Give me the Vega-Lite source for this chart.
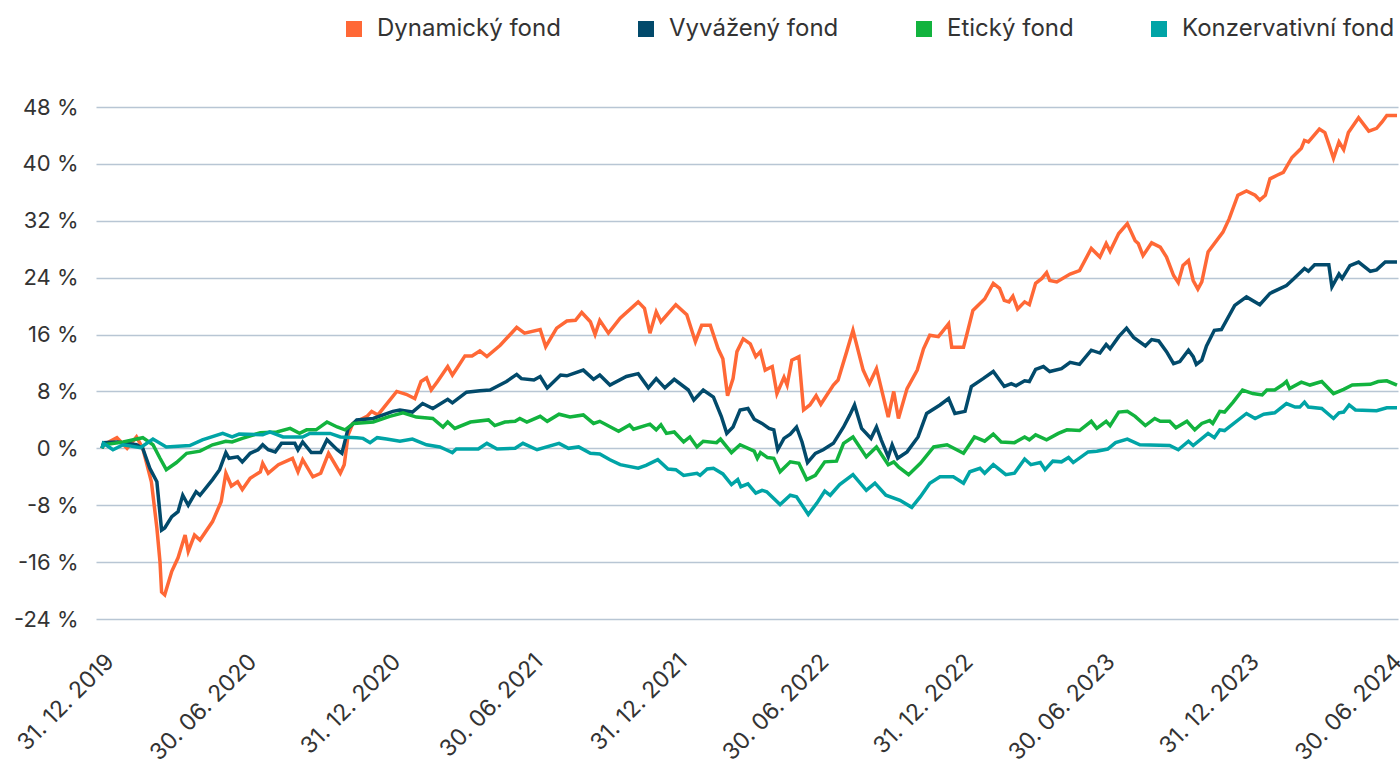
{
"$schema":"https://vega.github.io/schema/vega-lite/v6.json",
"width":1302,"height":512,
"autosize":{"type":"none"},
"padding":{"left":96,"top":107,"right":2,"bottom":148},
"background":"white",
"config":{"view":{"stroke":null},"font":"Inter"},
"datasets":{
"dyn":[{"d":"2019-12-31","v":0},{"d":"2020-01-02","v":0.5},{"d":"2020-01-19","v":1.5},{"d":"2020-02-01","v":0},{"d":"2020-02-13","v":1.6},{"d":"2020-02-21","v":0},{"d":"2020-03-03","v":-4.7},{"d":"2020-03-10","v":-11.2},{"d":"2020-03-14","v":-16},{"d":"2020-03-16","v":-20.2},{"d":"2020-03-20","v":-20.6},{"d":"2020-03-29","v":-17.3},{"d":"2020-04-06","v":-15.4},{"d":"2020-04-15","v":-12.2},{"d":"2020-04-19","v":-14.5},{"d":"2020-04-27","v":-12.2},{"d":"2020-05-04","v":-12.9},{"d":"2020-05-20","v":-10.3},{"d":"2020-05-31","v":-7.5},{"d":"2020-06-06","v":-3.5},{"d":"2020-06-13","v":-5.3},{"d":"2020-06-21","v":-4.7},{"d":"2020-06-27","v":-5.8},{"d":"2020-07-07","v":-4.2},{"d":"2020-07-20","v":-3.3},{"d":"2020-07-23","v":-2.1},{"d":"2020-07-30","v":-3.5},{"d":"2020-08-12","v":-2.3},{"d":"2020-08-30","v":-1.4},{"d":"2020-09-06","v":-3.3},{"d":"2020-09-12","v":-1.6},{"d":"2020-09-25","v":-4},{"d":"2020-10-05","v":-3.5},{"d":"2020-10-15","v":-0.7},{"d":"2020-10-30","v":-3.5},{"d":"2020-11-04","v":-2.3},{"d":"2020-11-09","v":1.9},{"d":"2020-11-15","v":3.5},{"d":"2020-12-03","v":4.5},{"d":"2020-12-09","v":5.2},{"d":"2020-12-17","v":4.7},{"d":"2021-01-10","v":8},{"d":"2021-01-22","v":7.6},{"d":"2021-02-02","v":7},{"d":"2021-02-10","v":9.4},{"d":"2021-02-17","v":9.9},{"d":"2021-02-23","v":8.2},{"d":"2021-03-03","v":9.4},{"d":"2021-03-16","v":11.5},{"d":"2021-03-22","v":10.3},{"d":"2021-03-28","v":11.3},{"d":"2021-04-07","v":13},{"d":"2021-04-16","v":13},{"d":"2021-04-26","v":13.7},{"d":"2021-05-05","v":12.9},{"d":"2021-05-22","v":14.5},{"d":"2021-06-12","v":17},{"d":"2021-06-22","v":16.2},{"d":"2021-07-12","v":16.7},{"d":"2021-07-19","v":14.3},{"d":"2021-08-02","v":16.9},{"d":"2021-08-15","v":17.9},{"d":"2021-08-26","v":18},{"d":"2021-09-03","v":19.1},{"d":"2021-09-14","v":17.8},{"d":"2021-09-20","v":16},{"d":"2021-09-26","v":18},{"d":"2021-10-07","v":16.2},{"d":"2021-10-22","v":18.3},{"d":"2021-11-14","v":20.6},{"d":"2021-11-22","v":19.7},{"d":"2021-11-29","v":16.2},{"d":"2021-12-07","v":19.2},{"d":"2021-12-13","v":17.8},{"d":"2022-01-01","v":20.2},{"d":"2022-01-15","v":18.8},{"d":"2022-01-26","v":15},{"d":"2022-02-03","v":17.3},{"d":"2022-02-14","v":17.3},{"d":"2022-02-24","v":14},{"d":"2022-03-02","v":12.6},{"d":"2022-03-08","v":7.4},{"d":"2022-03-15","v":9.8},{"d":"2022-03-20","v":13.6},{"d":"2022-03-28","v":15.4},{"d":"2022-04-06","v":14.7},{"d":"2022-04-13","v":12.9},{"d":"2022-04-19","v":13.6},{"d":"2022-04-25","v":11},{"d":"2022-05-04","v":11.5},{"d":"2022-05-10","v":7.7},{"d":"2022-05-19","v":10},{"d":"2022-05-23","v":8.9},{"d":"2022-05-29","v":12.4},{"d":"2022-06-07","v":12.9},{"d":"2022-06-13","v":5.4},{"d":"2022-06-21","v":6.1},{"d":"2022-06-29","v":7.4},{"d":"2022-07-05","v":6.2},{"d":"2022-07-21","v":8.9},{"d":"2022-07-27","v":9.6},{"d":"2022-08-07","v":13.6},{"d":"2022-08-15","v":16.6},{"d":"2022-08-28","v":11},{"d":"2022-09-05","v":9.1},{"d":"2022-09-14","v":11.2},{"d":"2022-09-29","v":4.4},{"d":"2022-10-06","v":8},{"d":"2022-10-12","v":4.2},{"d":"2022-10-23","v":8.4},{"d":"2022-11-05","v":11},{"d":"2022-11-13","v":14},{"d":"2022-11-21","v":15.9},{"d":"2022-12-02","v":15.7},{"d":"2022-12-15","v":17.5},{"d":"2022-12-19","v":14.2},{"d":"2023-01-03","v":14.2},{"d":"2023-01-07","v":15.9},{"d":"2023-01-15","v":19.4},{"d":"2023-01-30","v":21},{"d":"2023-02-10","v":23.2},{"d":"2023-02-18","v":22.5},{"d":"2023-02-24","v":20.8},{"d":"2023-03-02","v":20.6},{"d":"2023-03-07","v":21.4},{"d":"2023-03-13","v":19.6},{"d":"2023-03-22","v":20.6},{"d":"2023-03-28","v":20.2},{"d":"2023-04-05","v":23.2},{"d":"2023-04-13","v":23.9},{"d":"2023-04-19","v":24.7},{"d":"2023-04-23","v":23.6},{"d":"2023-05-02","v":23.4},{"d":"2023-05-19","v":24.5},{"d":"2023-05-31","v":25},{"d":"2023-06-15","v":28.1},{"d":"2023-06-26","v":26.9},{"d":"2023-07-04","v":28.8},{"d":"2023-07-09","v":27.7},{"d":"2023-07-20","v":30.2},{"d":"2023-07-31","v":31.6},{"d":"2023-08-10","v":29.2},{"d":"2023-08-14","v":28.8},{"d":"2023-08-20","v":27.1},{"d":"2023-08-31","v":28.9},{"d":"2023-09-11","v":28.3},{"d":"2023-09-19","v":26.9},{"d":"2023-09-28","v":24.3},{"d":"2023-10-04","v":23.3},{"d":"2023-10-10","v":25.7},{"d":"2023-10-17","v":26.4},{"d":"2023-10-23","v":23.6},{"d":"2023-10-29","v":22.4},{"d":"2023-11-03","v":23.4},{"d":"2023-11-11","v":27.6},{"d":"2023-11-30","v":30.4},{"d":"2023-12-08","v":32.3},{"d":"2023-12-19","v":35.6},{"d":"2023-12-30","v":36.2},{"d":"2024-01-10","v":35.6},{"d":"2024-01-16","v":34.9},{"d":"2024-01-23","v":35.6},{"d":"2024-01-29","v":37.9},{"d":"2024-02-07","v":38.4},{"d":"2024-02-15","v":38.8},{"d":"2024-02-26","v":40.9},{"d":"2024-03-09","v":42.2},{"d":"2024-03-13","v":43.3},{"d":"2024-03-18","v":43.1},{"d":"2024-04-01","v":44.9},{"d":"2024-04-08","v":44.4},{"d":"2024-04-13","v":42.8},{"d":"2024-04-19","v":40.8},{"d":"2024-04-26","v":43.1},{"d":"2024-05-02","v":42},{"d":"2024-05-08","v":44.4},{"d":"2024-05-21","v":46.5},{"d":"2024-06-03","v":44.6},{"d":"2024-06-13","v":45},{"d":"2024-06-20","v":45.9},{"d":"2024-06-26","v":46.8},{"d":"2024-07-09","v":46.8}],
"vyv":[{"d":"2019-12-31","v":0},{"d":"2020-01-02","v":0.8},{"d":"2020-01-19","v":0.9},{"d":"2020-02-13","v":0.5},{"d":"2020-02-21","v":0},{"d":"2020-03-01","v":-2.8},{"d":"2020-03-10","v":-4.7},{"d":"2020-03-16","v":-11.5},{"d":"2020-03-20","v":-11.2},{"d":"2020-03-29","v":-9.6},{"d":"2020-04-06","v":-8.9},{"d":"2020-04-12","v":-6.6},{"d":"2020-04-19","v":-8},{"d":"2020-04-29","v":-6.1},{"d":"2020-05-04","v":-6.6},{"d":"2020-05-20","v":-4.4},{"d":"2020-05-29","v":-3},{"d":"2020-06-06","v":-0.6},{"d":"2020-06-10","v":-1.4},{"d":"2020-06-21","v":-1.2},{"d":"2020-06-27","v":-1.9},{"d":"2020-07-07","v":-0.7},{"d":"2020-07-17","v":-0.2},{"d":"2020-07-23","v":0.5},{"d":"2020-07-30","v":-0.2},{"d":"2020-08-08","v":-0.5},{"d":"2020-08-16","v":0.7},{"d":"2020-09-02","v":0.7},{"d":"2020-09-06","v":-0.2},{"d":"2020-09-12","v":0.9},{"d":"2020-09-23","v":-0.6},{"d":"2020-10-05","v":-0.6},{"d":"2020-10-13","v":1.2},{"d":"2020-10-26","v":-0.2},{"d":"2020-11-01","v":-0.7},{"d":"2020-11-09","v":2.8},{"d":"2020-11-20","v":4},{"d":"2020-12-11","v":4.2},{"d":"2021-01-05","v":5.2},{"d":"2021-01-14","v":5.4},{"d":"2021-01-30","v":5.1},{"d":"2021-02-12","v":6.3},{"d":"2021-02-25","v":5.6},{"d":"2021-03-16","v":6.9},{"d":"2021-03-22","v":6.4},{"d":"2021-04-09","v":7.9},{"d":"2021-04-26","v":8.1},{"d":"2021-05-09","v":8.2},{"d":"2021-05-30","v":9.4},{"d":"2021-06-12","v":10.4},{"d":"2021-06-18","v":9.8},{"d":"2021-07-04","v":9.6},{"d":"2021-07-12","v":10.1},{"d":"2021-07-21","v":8.5},{"d":"2021-08-07","v":10.3},{"d":"2021-08-15","v":10.2},{"d":"2021-09-05","v":11},{"d":"2021-09-18","v":9.7},{"d":"2021-09-26","v":10.3},{"d":"2021-10-09","v":8.9},{"d":"2021-10-30","v":10.1},{"d":"2021-11-14","v":10.5},{"d":"2021-11-27","v":8.5},{"d":"2021-12-07","v":9.8},{"d":"2021-12-18","v":8.5},{"d":"2021-12-30","v":9.7},{"d":"2022-01-17","v":8.2},{"d":"2022-01-24","v":6.8},{"d":"2022-02-05","v":8.2},{"d":"2022-02-18","v":7.2},{"d":"2022-02-28","v":4.5},{"d":"2022-03-07","v":2.1},{"d":"2022-03-15","v":3},{"d":"2022-03-24","v":5.4},{"d":"2022-04-03","v":5.6},{"d":"2022-04-11","v":4.1},{"d":"2022-04-21","v":3.5},{"d":"2022-04-30","v":2.8},{"d":"2022-05-06","v":2.6},{"d":"2022-05-11","v":-0.2},{"d":"2022-05-19","v":1.4},{"d":"2022-05-27","v":2},{"d":"2022-06-04","v":3},{"d":"2022-06-11","v":0.9},{"d":"2022-06-18","v":-2},{"d":"2022-06-28","v":-0.7},{"d":"2022-07-08","v":-0.2},{"d":"2022-07-21","v":0.7},{"d":"2022-08-03","v":3},{"d":"2022-08-11","v":4.7},{"d":"2022-08-17","v":6.1},{"d":"2022-08-26","v":2.8},{"d":"2022-09-07","v":1.4},{"d":"2022-09-14","v":3},{"d":"2022-09-20","v":1.2},{"d":"2022-09-29","v":-1.2},{"d":"2022-10-04","v":0.5},{"d":"2022-10-11","v":-1.4},{"d":"2022-10-23","v":-0.5},{"d":"2022-11-06","v":1.6},{"d":"2022-11-17","v":4.9},{"d":"2022-12-04","v":6.1},{"d":"2022-12-15","v":7},{"d":"2022-12-23","v":4.9},{"d":"2023-01-05","v":5.2},{"d":"2023-01-13","v":8.7},{"d":"2023-01-28","v":9.8},{"d":"2023-02-10","v":10.8},{"d":"2023-02-24","v":8.7},{"d":"2023-03-05","v":9.1},{"d":"2023-03-11","v":8.8},{"d":"2023-03-22","v":9.5},{"d":"2023-03-28","v":9.4},{"d":"2023-04-05","v":11.1},{"d":"2023-04-15","v":11.5},{"d":"2023-04-23","v":10.8},{"d":"2023-05-08","v":11.2},{"d":"2023-05-19","v":12.1},{"d":"2023-05-31","v":11.8},{"d":"2023-06-15","v":13.8},{"d":"2023-06-26","v":13.4},{"d":"2023-07-04","v":14.6},{"d":"2023-07-09","v":14},{"d":"2023-07-20","v":15.7},{"d":"2023-07-30","v":16.9},{"d":"2023-08-08","v":15.6},{"d":"2023-08-23","v":14.4},{"d":"2023-08-31","v":15.3},{"d":"2023-09-09","v":15.1},{"d":"2023-09-19","v":13.6},{"d":"2023-09-28","v":11.9},{"d":"2023-10-06","v":12.2},{"d":"2023-10-17","v":13.8},{"d":"2023-10-23","v":12.9},{"d":"2023-10-27","v":11.8},{"d":"2023-11-03","v":12.4},{"d":"2023-11-09","v":14.4},{"d":"2023-11-19","v":16.6},{"d":"2023-11-28","v":16.7},{"d":"2023-12-15","v":20.1},{"d":"2023-12-30","v":21.3},{"d":"2024-01-16","v":20.2},{"d":"2024-01-29","v":21.8},{"d":"2024-02-19","v":22.9},{"d":"2024-02-28","v":23.8},{"d":"2024-03-13","v":25.3},{"d":"2024-03-18","v":24.9},{"d":"2024-03-26","v":25.8},{"d":"2024-04-13","v":25.8},{"d":"2024-04-17","v":22.7},{"d":"2024-04-26","v":24.5},{"d":"2024-04-30","v":23.9},{"d":"2024-05-10","v":25.7},{"d":"2024-05-21","v":26.2},{"d":"2024-06-05","v":24.9},{"d":"2024-06-13","v":25.1},{"d":"2024-06-24","v":26.2},{"d":"2024-07-09","v":26.2}],
"eti":[{"d":"2019-12-31","v":0},{"d":"2020-01-02","v":0.5},{"d":"2020-01-27","v":0.9},{"d":"2020-02-21","v":1.5},{"d":"2020-03-05","v":0.5},{"d":"2020-03-14","v":-1.4},{"d":"2020-03-22","v":-3},{"d":"2020-04-04","v":-2},{"d":"2020-04-17","v":-0.7},{"d":"2020-05-04","v":-0.4},{"d":"2020-05-20","v":0.5},{"d":"2020-06-06","v":1},{"d":"2020-06-14","v":0.9},{"d":"2020-06-27","v":1.4},{"d":"2020-07-20","v":2.2},{"d":"2020-08-10","v":2.3},{"d":"2020-08-27","v":2.8},{"d":"2020-09-08","v":2.1},{"d":"2020-09-17","v":2.6},{"d":"2020-09-29","v":2.6},{"d":"2020-10-13","v":3.7},{"d":"2020-10-26","v":3},{"d":"2020-11-05","v":2.6},{"d":"2020-11-16","v":3.5},{"d":"2020-12-11","v":3.7},{"d":"2021-01-01","v":4.5},{"d":"2021-01-18","v":5},{"d":"2021-02-04","v":4.4},{"d":"2021-02-25","v":4.2},{"d":"2021-03-10","v":3},{"d":"2021-03-16","v":3.7},{"d":"2021-03-25","v":2.8},{"d":"2021-04-14","v":3.7},{"d":"2021-05-07","v":4},{"d":"2021-05-15","v":3.2},{"d":"2021-05-28","v":3.7},{"d":"2021-06-10","v":3.8},{"d":"2021-06-16","v":4.2},{"d":"2021-06-25","v":3.7},{"d":"2021-07-12","v":4.5},{"d":"2021-07-21","v":3.8},{"d":"2021-08-05","v":4.8},{"d":"2021-08-19","v":4.4},{"d":"2021-09-05","v":4.7},{"d":"2021-09-18","v":3.5},{"d":"2021-09-26","v":3.8},{"d":"2021-10-20","v":2.4},{"d":"2021-11-03","v":3.3},{"d":"2021-11-08","v":2.7},{"d":"2021-11-29","v":3.4},{"d":"2021-12-07","v":2.6},{"d":"2021-12-13","v":3.3},{"d":"2021-12-20","v":2.1},{"d":"2021-12-30","v":2.3},{"d":"2022-01-11","v":0.9},{"d":"2022-01-19","v":1.6},{"d":"2022-01-28","v":0.2},{"d":"2022-02-05","v":1},{"d":"2022-02-22","v":0.8},{"d":"2022-02-27","v":1.3},{"d":"2022-03-13","v":-0.6},{"d":"2022-03-24","v":0.5},{"d":"2022-04-11","v":-0.4},{"d":"2022-04-15","v":-1.4},{"d":"2022-04-19","v":-0.6},{"d":"2022-04-28","v":-1.3},{"d":"2022-05-06","v":-1.4},{"d":"2022-05-14","v":-3.3},{"d":"2022-05-27","v":-1.9},{"d":"2022-06-07","v":-2.1},{"d":"2022-06-17","v":-4.4},{"d":"2022-06-28","v":-3.8},{"d":"2022-07-10","v":-1.9},{"d":"2022-07-25","v":-1.8},{"d":"2022-08-03","v":0.7},{"d":"2022-08-15","v":1.6},{"d":"2022-09-01","v":-1.2},{"d":"2022-09-14","v":0.2},{"d":"2022-09-29","v":-2.3},{"d":"2022-10-06","v":-1.9},{"d":"2022-10-12","v":-2.6},{"d":"2022-10-25","v":-3.7},{"d":"2022-11-09","v":-2.1},{"d":"2022-11-26","v":0.2},{"d":"2022-12-13","v":0.5},{"d":"2023-01-03","v":-0.7},{"d":"2023-01-17","v":1.6},{"d":"2023-01-30","v":1},{"d":"2023-02-10","v":2},{"d":"2023-02-20","v":0.9},{"d":"2023-03-09","v":0.8},{"d":"2023-03-22","v":1.6},{"d":"2023-03-28","v":1.2},{"d":"2023-04-05","v":1.9},{"d":"2023-04-19","v":1.2},{"d":"2023-05-04","v":2.1},{"d":"2023-05-15","v":2.6},{"d":"2023-05-31","v":2.5},{"d":"2023-06-15","v":3.8},{"d":"2023-06-22","v":2.8},{"d":"2023-07-04","v":3.8},{"d":"2023-07-09","v":3.2},{"d":"2023-07-20","v":5.1},{"d":"2023-07-31","v":5.2},{"d":"2023-08-10","v":4.5},{"d":"2023-08-23","v":3.2},{"d":"2023-09-04","v":4.2},{"d":"2023-09-11","v":3.8},{"d":"2023-09-23","v":3.8},{"d":"2023-10-01","v":2.9},{"d":"2023-10-15","v":3.8},{"d":"2023-10-25","v":2.6},{"d":"2023-11-03","v":3.5},{"d":"2023-11-13","v":3.9},{"d":"2023-11-17","v":3.5},{"d":"2023-11-26","v":5.2},{"d":"2023-12-02","v":5.1},{"d":"2023-12-13","v":6.5},{"d":"2023-12-25","v":8.2},{"d":"2024-01-07","v":7.7},{"d":"2024-01-19","v":7.5},{"d":"2024-01-25","v":8.2},{"d":"2024-02-04","v":8.2},{"d":"2024-02-15","v":9},{"d":"2024-02-19","v":9.4},{"d":"2024-02-23","v":8.4},{"d":"2024-03-09","v":9.3},{"d":"2024-03-20","v":8.9},{"d":"2024-04-04","v":9.4},{"d":"2024-04-19","v":7.7},{"d":"2024-05-02","v":8.3},{"d":"2024-05-13","v":8.9},{"d":"2024-06-05","v":9},{"d":"2024-06-15","v":9.4},{"d":"2024-06-26","v":9.5},{"d":"2024-07-09","v":8.9}],
"kon":[{"d":"2019-12-31","v":0},{"d":"2020-01-02","v":0.7},{"d":"2020-01-14","v":-0.2},{"d":"2020-01-27","v":0.5},{"d":"2020-02-18","v":0.1},{"d":"2020-03-05","v":1.3},{"d":"2020-03-22","v":0.2},{"d":"2020-04-21","v":0.4},{"d":"2020-05-07","v":1.2},{"d":"2020-06-02","v":2.1},{"d":"2020-06-14","v":1.6},{"d":"2020-06-23","v":2},{"d":"2020-07-23","v":1.9},{"d":"2020-08-01","v":2.3},{"d":"2020-08-18","v":1.6},{"d":"2020-09-12","v":1.6},{"d":"2020-09-21","v":2.1},{"d":"2020-10-17","v":2.1},{"d":"2020-10-30","v":1.6},{"d":"2020-11-20","v":1.5},{"d":"2020-11-28","v":1.4},{"d":"2020-12-07","v":0.8},{"d":"2020-12-16","v":1.5},{"d":"2020-12-28","v":1.3},{"d":"2021-01-14","v":1},{"d":"2021-01-30","v":1.3},{"d":"2021-02-17","v":0.5},{"d":"2021-03-06","v":0.2},{"d":"2021-03-14","v":-0.2},{"d":"2021-03-22","v":-0.6},{"d":"2021-03-27","v":-0.1},{"d":"2021-04-24","v":-0.1},{"d":"2021-05-05","v":0.7},{"d":"2021-05-18","v":-0.1},{"d":"2021-06-10","v":0},{"d":"2021-06-20","v":0.7},{"d":"2021-07-08","v":-0.2},{"d":"2021-08-05","v":0.7},{"d":"2021-08-17","v":0},{"d":"2021-08-30","v":0.2},{"d":"2021-09-14","v":-0.7},{"d":"2021-09-26","v":-0.8},{"d":"2021-10-09","v":-1.6},{"d":"2021-10-22","v":-2.3},{"d":"2021-11-14","v":-2.8},{"d":"2021-11-24","v":-2.4},{"d":"2021-12-09","v":-1.6},{"d":"2021-12-22","v":-2.9},{"d":"2022-01-01","v":-3},{"d":"2022-01-11","v":-3.8},{"d":"2022-01-28","v":-3.5},{"d":"2022-02-01","v":-3.8},{"d":"2022-02-10","v":-2.9},{"d":"2022-02-18","v":-2.8},{"d":"2022-03-02","v":-3.6},{"d":"2022-03-13","v":-5.1},{"d":"2022-03-21","v":-4.4},{"d":"2022-03-25","v":-5.4},{"d":"2022-04-03","v":-5},{"d":"2022-04-13","v":-6.3},{"d":"2022-04-21","v":-5.9},{"d":"2022-04-27","v":-6.1},{"d":"2022-05-14","v":-7.9},{"d":"2022-05-27","v":-6.6},{"d":"2022-06-04","v":-6.8},{"d":"2022-06-19","v":-9.3},{"d":"2022-06-30","v":-7.7},{"d":"2022-07-10","v":-6},{"d":"2022-07-17","v":-6.6},{"d":"2022-07-29","v":-5.1},{"d":"2022-08-15","v":-3.7},{"d":"2022-09-01","v":-5.9},{"d":"2022-09-12","v":-4.9},{"d":"2022-09-26","v":-6.6},{"d":"2022-10-14","v":-7.3},{"d":"2022-10-29","v":-8.3},{"d":"2022-11-09","v":-6.8},{"d":"2022-11-21","v":-4.9},{"d":"2022-12-04","v":-4},{"d":"2022-12-21","v":-4},{"d":"2023-01-03","v":-4.9},{"d":"2023-01-11","v":-3.3},{"d":"2023-01-24","v":-2.8},{"d":"2023-01-30","v":-3.5},{"d":"2023-02-10","v":-2.3},{"d":"2023-02-26","v":-3.7},{"d":"2023-03-09","v":-3.5},{"d":"2023-03-22","v":-1.5},{"d":"2023-03-30","v":-2.3},{"d":"2023-04-11","v":-2},{"d":"2023-04-17","v":-3},{"d":"2023-04-27","v":-1.8},{"d":"2023-05-08","v":-1.9},{"d":"2023-05-17","v":-1.3},{"d":"2023-05-23","v":-2},{"d":"2023-06-11","v":-0.5},{"d":"2023-06-22","v":-0.4},{"d":"2023-07-06","v":-0.1},{"d":"2023-07-16","v":0.8},{"d":"2023-07-31","v":1.3},{"d":"2023-08-16","v":0.5},{"d":"2023-09-23","v":0.4},{"d":"2023-10-04","v":-0.2},{"d":"2023-10-17","v":1},{"d":"2023-10-23","v":0.4},{"d":"2023-11-11","v":2.1},{"d":"2023-11-19","v":1.5},{"d":"2023-11-26","v":2.6},{"d":"2023-12-02","v":2.5},{"d":"2023-12-30","v":4.9},{"d":"2024-01-10","v":4.2},{"d":"2024-01-21","v":4.8},{"d":"2024-02-04","v":5},{"d":"2024-02-19","v":6.3},{"d":"2024-03-01","v":5.8},{"d":"2024-03-07","v":5.8},{"d":"2024-03-13","v":6.5},{"d":"2024-03-18","v":5.8},{"d":"2024-04-04","v":5.6},{"d":"2024-04-19","v":4.2},{"d":"2024-04-26","v":5},{"d":"2024-05-02","v":5.1},{"d":"2024-05-09","v":6.1},{"d":"2024-05-17","v":5.4},{"d":"2024-06-13","v":5.3},{"d":"2024-06-26","v":5.7},{"d":"2024-07-09","v":5.7}]
},
"encoding":{
"x":{"field":"d","type":"temporal","scale":{"type":"utc","domain":[{"year":2019,"month":12,"date":23,"hours":8,"utc":true},{"year":2024,"month":7,"date":10,"hours":7,"utc":true}]},
"axis":{"values":[{"year":2019,"month":12,"date":31,"utc":true},{"year":2020,"month":6,"date":30,"utc":true},{"year":2020,"month":12,"date":31,"utc":true},{"year":2021,"month":6,"date":30,"utc":true},{"year":2021,"month":12,"date":31,"utc":true},{"year":2022,"month":6,"date":30,"utc":true},{"year":2022,"month":12,"date":31,"utc":true},{"year":2023,"month":6,"date":30,"utc":true},{"year":2023,"month":12,"date":31,"utc":true},{"year":2024,"month":6,"date":30,"utc":true}],
"labelExpr":"utcFormat(datum.value, '%d. %m. %Y')","labelAngle":-45,"labelAlign":"right","labelBaseline":"top","labelPadding":31,"ticks":false,"domain":false,"grid":false,"title":null,"labelFontSize":23,"labelColor":"#333333","labelFont":"Inter","labelOverlap":false,"labelBound":false,"labelFlush":false}},
"y":{"field":"v","type":"quantitative","scale":{"domain":[-24,48],"nice":false,"zero":false},
"axis":{"values":[-24,-16,-8,0,8,16,24,32,40,48],"labelExpr":"datum.value + ' %'","ticks":false,"domain":false,"grid":true,"gridColor":"#b8c6d4","gridWidth":1.5,"labelPadding":18,"labelFontSize":22,"labelColor":"#333333","labelFont":"Inter","title":null}}
},
"layer":[
{"data":{"name":"dyn"},"mark":{"type":"line","strokeWidth":3.5},
"encoding":{"color":{"datum":"Dynamický fond","type":"nominal",
"scale":{"domain":["Dynamický fond","Vyvážený fond","Etický fond","Konzervativní fond"],"range":["#ff6836","#024a6b","#12b33e","#00a4a6"]},
"legend":{"title":null,"orient":"none","direction":"horizontal","legendX":246,"legendY":-90,"symbolType":"square","symbolSize":256,"symbolStrokeWidth":0,"symbolOpacity":1,"labelFontSize":24,"labelFont":"Inter","labelColor":"#333333","labelOffset":11,"columnPadding":73,"labelLimit":400,
"encode":{"symbols":{"update":{"fill":{"scale":"color","field":"value"},"fillOpacity":{"value":1},"strokeWidth":{"value":0}}}}}}}},
{"data":{"name":"vyv"},"mark":{"type":"line","strokeWidth":3.5},"encoding":{"color":{"datum":"Vyvážený fond","type":"nominal"}}},
{"data":{"name":"eti"},"mark":{"type":"line","strokeWidth":3.5},"encoding":{"color":{"datum":"Etický fond","type":"nominal"}}},
{"data":{"name":"kon"},"mark":{"type":"line","strokeWidth":3.5},"encoding":{"color":{"datum":"Konzervativní fond","type":"nominal"}}}
]
}
